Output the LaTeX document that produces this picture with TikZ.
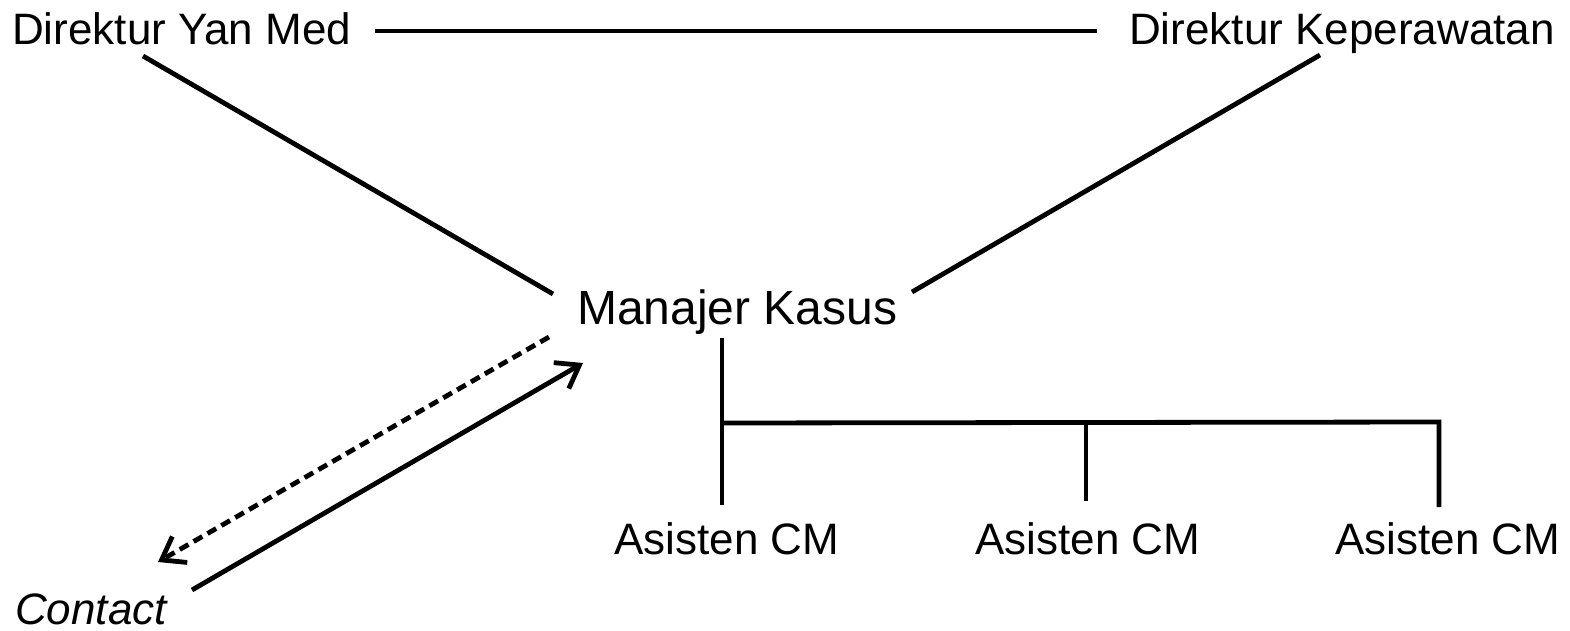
\documentclass[tikz,border=0pt]{standalone}
\usepackage{fontspec}
\setmainfont{Liberation Sans}
\usetikzlibrary{arrows.meta}
\begin{document}
\begin{tikzpicture}[x=1pt,y=-1pt,
  lbl/.style={inner sep=0pt, anchor=base west, font=\fontsize{44}{50}\selectfont},
  ln/.style={line width=4.8pt, line join=miter},
  tip/.style={-{Straight Barb[length=21pt,width=30pt,line width=4.8pt]}}]
\useasboundingbox (0,0) rectangle (1570,631);
\node[lbl] (ym) at (12,45) {Direktur Yan Med};
\node[lbl] (kp) at (1129,45) {Direktur Keperawatan};
\node[lbl, font=\fontsize{48}{55}\selectfont] (mk) at (577,324) {Manajer Kasus};
\node[lbl] (a1) at (614,554) {Asisten CM};
\node[lbl] (a2) at (975,554) {Asisten CM};
\node[lbl] (a3) at (1335,554) {Asisten CM};
\node[lbl, font=\fontsize{44}{50}\selectfont\itshape] (ct) at (15,624) {Contact};
% connector end points
\coordinate (ymR) at (375,31);
\coordinate (kpL) at (1097,31);
\coordinate (ymB) at (143,56);
\coordinate (mkL) at (553,294);
\coordinate (kpB) at (1320,55);
\coordinate (mkR) at (912,292);
\coordinate (mkD) at (722,338);
\coordinate (a1T) at (722,505);
\coordinate (bj) at (722,423);
\coordinate (b2) at (1086,423);
\coordinate (a2T) at (1086,501);
\coordinate (b3) at (1439,422);
\coordinate (a3T) at (1439,507);
\coordinate (mkDL) at (549,337);
\coordinate (ctA) at (158,562);
\coordinate (ctS) at (192,590);
\coordinate (mkA) at (583,363);
\draw[ln] (ymR) -- (kpL);
\draw[ln] (ymB) -- (mkL);
\draw[ln] (kpB) -- (mkR);
\draw[ln] (mkD) -- (a1T);
\draw[ln] (bj) -- (b3) -- (a3T);
\draw[ln] (b2) -- (a2T);
\draw[ln, tip, dash pattern=on 10pt off 6pt] (mkDL) -- (ctA);
\draw[ln, tip] (ctS) -- (mkA);
\end{tikzpicture}
\end{document}
